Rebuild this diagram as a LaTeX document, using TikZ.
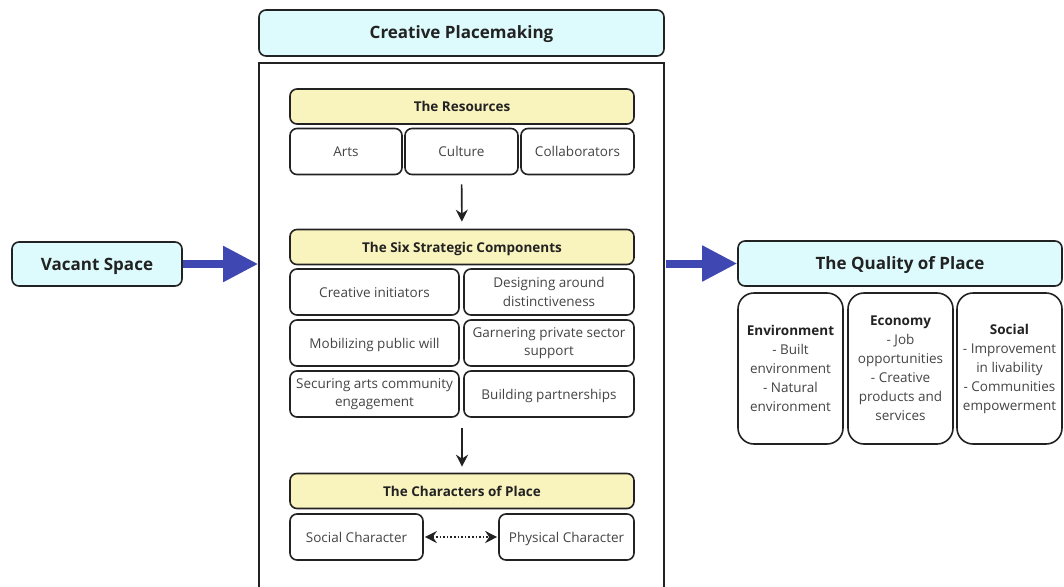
\documentclass[tikz,border=0pt]{standalone}
\usepackage{fontspec}
\setmainfont{Open Sans}
\usetikzlibrary{arrows.meta}

\definecolor{headcyan}{RGB}{221,250,252}
\definecolor{headyellow}{RGB}{249,243,190}
\definecolor{flowblue}{RGB}{63,72,178}
\definecolor{inkdark}{RGB}{34,34,34}
\definecolor{inkgray}{RGB}{68,68,68}

\begin{document}
\begin{tikzpicture}[x=1pt, y=-1pt,
  box/.style={draw=inkdark, line width=1.6pt, rounded corners=7pt, align=center,
    inner sep=2pt, text=inkgray, font=\fontsize{13.5}{18.5}\selectfont},
  oneline/.style={text height=1.05em, text depth=0em},
  cyanhead/.style={box, oneline, fill=headcyan, text=inkdark, text height=1.2em,
    font=\fontsize{17}{20}\selectfont\bfseries},
  yellowhead/.style={box, oneline, fill=headyellow, minimum width=344pt, minimum height=35pt,
    text=inkdark, font=\fontsize{13.5}{16}\selectfont\bfseries},
  cell/.style={box, minimum height=46pt},
  qcell/.style={box, rounded corners=16pt, minimum width=105pt, minimum height=151pt,
    font=\fontsize{13.5}{19}\selectfont},
  flow/.style={-{Stealth[length=12pt,width=12pt]}, line width=1.6pt, draw=inkdark},
  twoway/.style={{Stealth[length=12pt,width=12pt]}-{Stealth[length=12pt,width=12pt]},
    line width=1.6pt, draw=inkdark, dotted},
  bigflow/.style={-{Triangle[length=35pt,width=34pt]}, line width=8pt, draw=flowblue}
]
\useasboundingbox (0,0) rectangle (1064,586);

% input and frame
\node[cyanhead, minimum width=170pt, minimum height=44pt] (vacant) at (97,264) {Vacant Space};
\node[cyanhead, minimum width=405pt, minimum height=46pt] (cp) at (461.5,33) {Creative Placemaking};
\node[draw=inkdark, line width=1.6pt, minimum width=405pt, minimum height=540pt] (frame) at (461.5,333) {};

% resources
\node[yellowhead] (res) at (462,106.5) {The Resources};
\node[cell, oneline, minimum width=112pt] (arts) at (346,151.5) {Arts};
\node[cell, oneline, minimum width=113pt] (culture) at (461.5,151.5) {Culture};
\node[cell, oneline, minimum width=113pt] (collab) at (577.5,151.5) {Collaborators};

% six strategic components
\node[yellowhead] (six) at (462,247) {The Six Strategic Components};
\node[cell, oneline, minimum width=169pt] (c1) at (374.5,292) {Creative initiators};
\node[cell, minimum width=170pt] (c2) at (549,292) {Designing around\\distinctiveness};
\node[cell, oneline, minimum width=169pt] (c3) at (374.5,343) {Mobilizing public will};
\node[cell, minimum width=170pt] (c4) at (549,343) {Garnering private sector\\support};
\node[cell, minimum width=169pt] (c5) at (374.5,394) {Securing arts community\\engagement};
\node[cell, oneline, minimum width=170pt] (c6) at (549,394) {Building partnerships};

% characters of place
\node[yellowhead] (chars) at (462,491) {The Characters of Place};
\node[cell, oneline, minimum width=133pt] (socchar) at (356.5,537) {Social Character};
\node[cell, oneline, minimum width=135pt] (phychar) at (566.5,537) {Physical Character};

% quality of place
\node[cyanhead, minimum width=324pt, minimum height=45pt] (quality) at (900,263.5) {The Quality of Place};
\node[qcell] (env) at (790.5,368.5) {\textcolor{inkdark}{\textbf{Environment}}\\- Built\\environment\\- Natural\\environment};
\node[qcell] (econ) at (900.5,368.5) {\textcolor{inkdark}{\textbf{Economy}}\\- Job\\opportunities\\- Creative\\products and\\services};
\node[qcell] (soc) at (1009.5,368.5) {\textcolor{inkdark}{\textbf{Social}}\\- Improvement\\in livability\\- Communities\\empowerment};

% connectors
\draw[flow, shorten <=9pt, shorten >=7pt] (culture) -- (six);
\draw[flow, shorten <=10pt, shorten >=6pt] (six.center |- c5.south) -- (chars);
\draw[twoway, shorten <=1pt, shorten >=1pt] (socchar) -- (phychar);
\draw[bigflow] (vacant) -- (vacant -| frame.west);
\draw[bigflow, shorten <=1pt] (frame.east |- quality) -- (quality);
\end{tikzpicture}
\end{document}
